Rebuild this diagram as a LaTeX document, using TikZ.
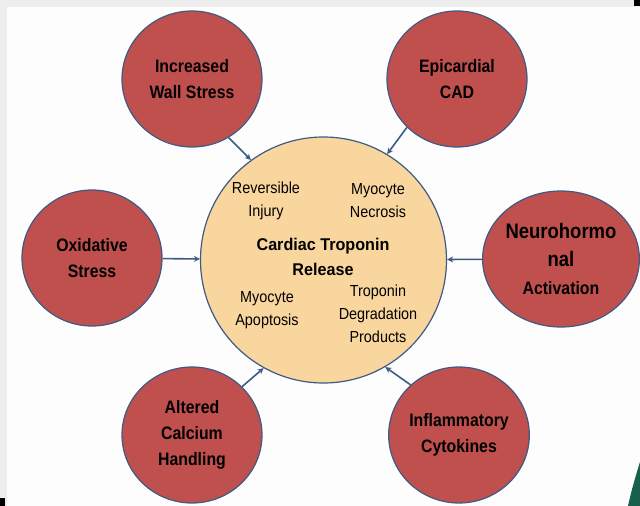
\documentclass[tikz,border=0pt]{standalone}
\usepackage{fontspec}
\setmainfont{Liberation Sans}
\newfontfamily\outerfont[FakeStretch=0.88]{Liberation Sans}
\newfontfamily\hubfont[FakeStretch=0.95]{Liberation Sans}
\newfontfamily\innerfont[FakeStretch=0.9]{Liberation Sans}
\usetikzlibrary{shapes.geometric,arrows.meta}
\definecolor{redfill}{HTML}{C0504D}
\definecolor{edgeblue}{HTML}{3F5A84}
\definecolor{hubfill}{HTML}{F9D69E}
\definecolor{framegray}{HTML}{EEEEEE}
\definecolor{pagewhite}{HTML}{FDFDFD}
\definecolor{darkgreen}{HTML}{17604B}
\tikzset{
  cause/.style={ellipse, draw=edgeblue, line width=1.2pt, fill=redfill, inner sep=0pt,
    minimum width=140pt, minimum height=136pt, align=center,
    font=\outerfont\bfseries\fontsize{18}{26}\selectfont},
  hub/.style={circle, draw=edgeblue, line width=1.2pt, fill=hubfill, inner sep=0pt,
    minimum size=246pt},
  hubtext/.style={align=center, inner sep=0pt, font=\hubfont\bfseries\fontsize{17}{25}\selectfont},
  innertext/.style={align=center, inner sep=0pt, font=\innerfont\fontsize{16}{23}\selectfont},
  arr/.style={draw=edgeblue, line width=1.6pt, -{Stealth[length=6pt,width=6pt]}}
}
\begin{document}
\begin{tikzpicture}[x=1pt,y=-1pt]
\useasboundingbox (0,0) rectangle (640,506);
\clip (0,0) rectangle (640,506);
\fill[framegray] (0,0) rectangle (640,506);
\fill[pagewhite] (7,7) rectangle (640,506);
\fill[black] (634,0) rectangle (640,6);
\fill[black] (0,498) rectangle (5,506);
\fill[darkgreen] (640,462) .. controls (635,478) and (631,492) .. (628,506) -- (640,506) -- cycle;

\node[hub] (ctr) at (323.5,260) {};
\node[cause] (iws) at (192,79) {Increased\\Wall Stress};
\node[cause] (cad) at (457,79) {Epicardial\\CAD};
\node[cause] (ox) at (92,258) {Oxidative\\Stress};
\node[cause, minimum width=156pt, font=\outerfont\bfseries\fontsize{21}{28}\selectfont] (nh) at (561,259) {Neurohormo\\nal\\\fontsize{18}{28}\selectfont Activation};
\node[cause] (ach) at (192,435) {Altered\\Calcium\\Handling};
\node[cause] (ic) at (459,435) {Inflammatory\\Cytokines};

\node[innertext] (rev) at (266,201) {Reversible\\Injury};
\node[innertext] (nec) at (378,201) {Myocyte\\Necrosis};
\node[hubtext] (rel) at (323,257) {Cardiac Troponin\\Release};
\node[innertext] (apo) at (267,310) {Myocyte\\Apoptosis};
\node[innertext] (deg) at (378,314) {Troponin\\Degradation\\Products};

\draw[arr] (iws.-58) -- (ctr.126);
\draw[arr] (cad.224) -- (ctr.59);
\draw[arr] (ox) -- (ctr);
\draw[arr] (nh) -- (ctr);
\draw[arr] (ach.44) -- (ctr.-119);
\draw[arr] (ic.134) -- (ctr.-60);
\end{tikzpicture}
\end{document}
